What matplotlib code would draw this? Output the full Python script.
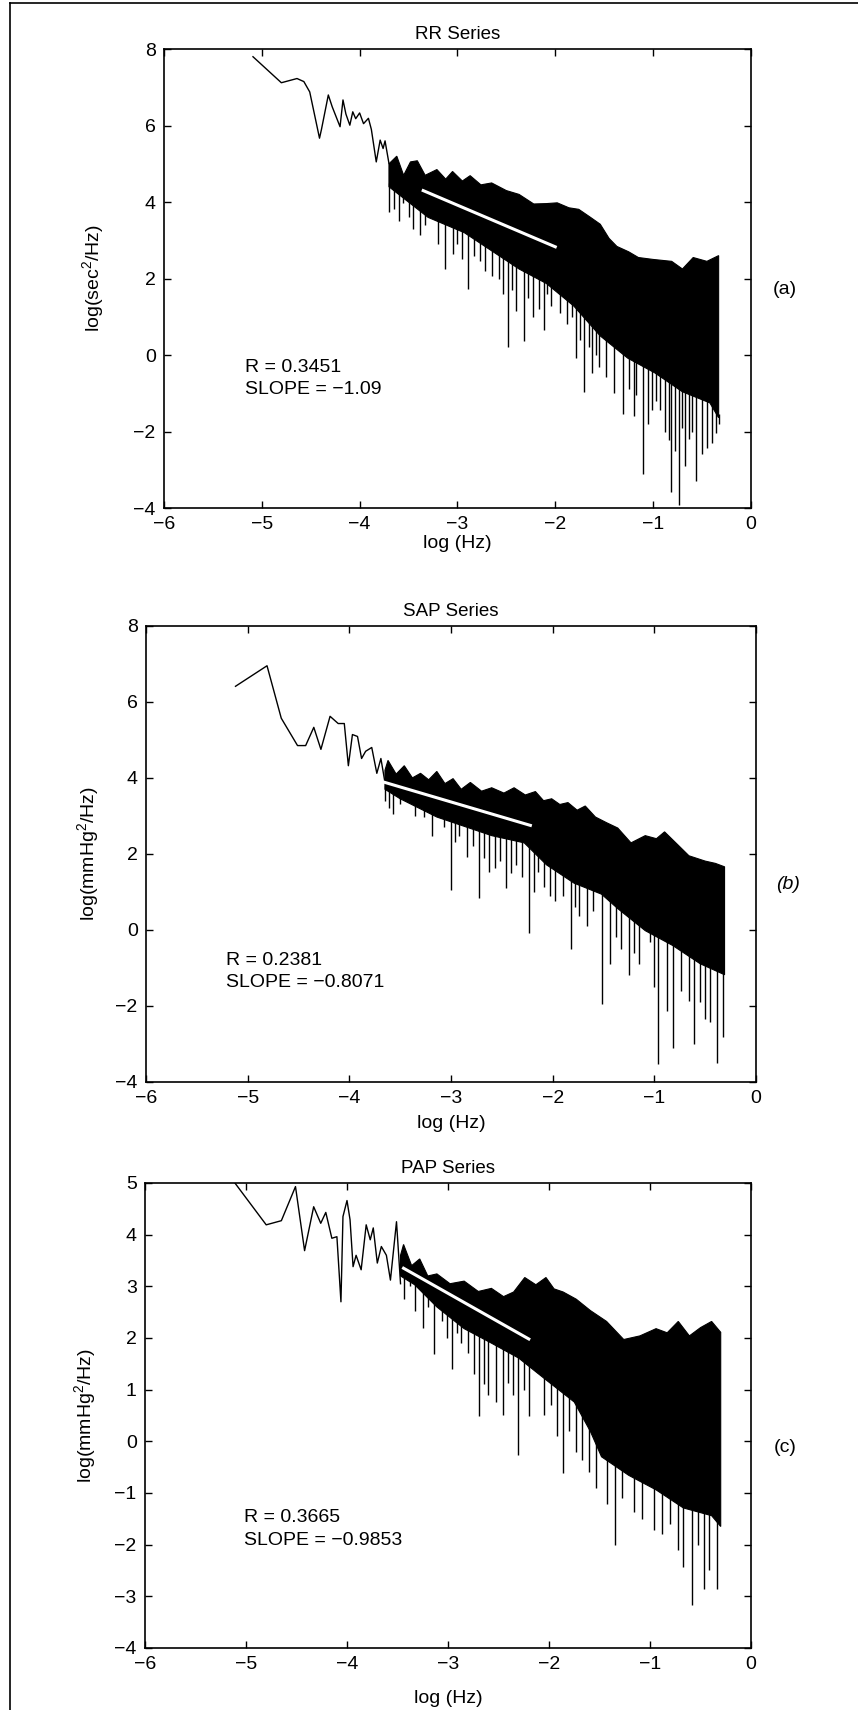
import numpy as np
import matplotlib
matplotlib.use("Agg")
import matplotlib.pyplot as plt
from matplotlib.lines import Line2D

plt.rcParams['font.family'] = ['Liberation Sans', 'DejaVu Sans']
plt.rcParams['mathtext.default'] = 'regular'

# ---- RR series (a) ----
rr_line_x = [-5.09, -4.80, -4.64, -4.57, -4.51, -4.41, -4.39, -4.32, -4.28, -4.20, -4.17, -4.14,
             -4.10, -4.07, -4.04, -4.00, -3.96, -3.91, -3.88, -3.83, -3.79, -3.76, -3.74, -3.70]
rr_line_y = [7.80, 7.12, 7.23, 7.15, 6.88, 5.67, 5.90, 6.80, 6.49, 5.97, 6.67, 6.30,
             6.01, 6.36, 6.18, 6.33, 6.05, 6.19, 5.90, 5.05, 5.62, 5.40, 5.60, 5.01]
rr_top_x = [-3.70, -3.62, -3.55, -3.48, -3.41, -3.33, -3.21, -3.12, -3.05, -2.95, -2.87, -2.76,
            -2.65, -2.50, -2.37, -2.22, -2.09, -1.98, -1.86, -1.76, -1.64, -1.54, -1.45, -1.37,
            -1.25, -1.15, -1.00, -0.81, -0.70, -0.59, -0.45, -0.33]
rr_top_y = [5.00, 5.20, 4.70, 5.05, 5.08, 4.70, 4.85, 4.60, 4.80, 4.55, 4.69, 4.45,
            4.50, 4.30, 4.20, 3.95, 3.96, 3.98, 3.85, 3.81, 3.60, 3.42, 3.05, 2.84,
            2.70, 2.55, 2.50, 2.45, 2.25, 2.55, 2.45, 2.60]
rr_bot_x = [-3.70, -3.30, -2.93, -2.37, -2.09, -1.81, -1.54, -1.26, -0.98, -0.70, -0.42, -0.33]
rr_bot_y = [4.40, 3.60, 3.20, 2.25, 1.87, 1.28, 0.50, -0.08, -0.47, -0.96, -1.25, -1.64]
rr_spike_x = [-3.70, -3.65, -3.60, -3.56, -3.50, -3.45, -3.38, -3.33, -3.27, -3.20, -3.13, -3.05,
              -3.00, -2.95, -2.89, -2.83, -2.77, -2.72, -2.65, -2.58, -2.53, -2.48, -2.44, -2.40,
              -2.32, -2.28, -2.23, -2.17, -2.12, -2.08, -2.04, -1.95, -1.88, -1.83, -1.79, -1.75,
              -1.71, -1.66, -1.62, -1.58, -1.55, -1.48, -1.40, -1.31, -1.25, -1.20, -1.17, -1.10,
              -1.05, -1.01, -0.97, -0.93, -0.88, -0.84, -0.82, -0.78, -0.74, -0.70, -0.67, -0.63,
              -0.60, -0.56, -0.50, -0.45, -0.40, -0.36, -0.33]
rr_spike_y = [3.74, 3.82, 3.50, 3.97, 3.60, 3.30, 3.13, 3.40, 3.70, 2.90, 2.26, 2.65,
              2.90, 2.50, 1.72, 2.60, 2.45, 2.20, 2.06, 2.00, 1.60, 0.21, 1.70, 1.14,
              0.36, 1.50, 1.00, 1.20, 0.65, 1.60, 1.28, 1.10, 0.80, 1.00, -0.08, 0.40,
              -0.96, 0.20, -0.47, 0.00, -0.30, -0.57, -1.00, -1.54, -0.90, -1.60, -1.05, -3.10,
              -1.80, -1.44, -1.20, -1.44, -2.00, -2.22, -3.59, -2.50, -3.93, -1.90, -2.90, -2.20,
              -2.00, -3.30, -2.60, -2.42, -2.30, -2.03, -1.80]
rr_fit_x = [-3.35, -2.00]
rr_fit_y = [4.30, 2.83]

# ---- SAP series (b) ----
sap_line_x = [-5.12, -4.81, -4.67, -4.51, -4.43, -4.35, -4.28, -4.19, -4.11, -4.05, -4.01, -3.97,
              -3.92, -3.88, -3.84, -3.78, -3.73, -3.69, -3.65]
sap_line_y = [6.41, 6.95, 5.57, 4.85, 4.85, 5.33, 4.75, 5.62, 5.43, 5.43, 4.32, 5.14,
              5.09, 4.51, 4.70, 4.80, 4.12, 4.51, 3.88]
sap_top_x = [-3.65, -3.62, -3.54, -3.46, -3.38, -3.30, -3.22, -3.14, -3.06, -2.98, -2.90, -2.81,
             -2.70, -2.60, -2.48, -2.38, -2.27, -2.17, -2.09, -2.01, -1.93, -1.85, -1.76, -1.68,
             -1.58, -1.47, -1.36, -1.23, -1.09, -0.98, -0.90, -0.77, -0.66, -0.50, -0.40, -0.31]
sap_top_y = [4.20, 4.46, 4.10, 4.32, 4.00, 4.12, 3.95, 4.17, 3.85, 3.98, 3.70, 3.88,
             3.65, 3.74, 3.60, 3.74, 3.55, 3.64, 3.40, 3.45, 3.30, 3.35, 3.15, 3.26,
             2.97, 2.82, 2.68, 2.29, 2.48, 2.40, 2.58, 2.24, 1.95, 1.81, 1.75, 1.66]
sap_bot_x = [-3.65, -3.50, -3.14, -2.60, -2.28, -2.06, -1.79, -1.52, -1.36, -1.09, -0.82, -0.55, -0.31]
sap_bot_y = [3.70, 3.45, 2.97, 2.48, 2.29, 1.71, 1.23, 0.94, 0.56, -0.02, -0.41, -0.89, -1.18]
sap_spike_x = [-3.65, -3.61, -3.57, -3.50, -3.43, -3.35, -3.27, -3.19, -3.14, -3.07, -3.00, -2.96,
               -2.92, -2.84, -2.78, -2.73, -2.68, -2.63, -2.57, -2.52, -2.46, -2.41, -2.36, -2.30,
               -2.23, -2.18, -2.14, -2.09, -2.03, -1.98, -1.90, -1.82, -1.78, -1.74, -1.66, -1.60,
               -1.52, -1.44, -1.38, -1.33, -1.25, -1.20, -1.15, -1.04, -1.00, -0.96, -0.88, -0.82,
               -0.74, -0.66, -0.61, -0.55, -0.50, -0.45, -0.38, -0.33]
sap_spike_y = [3.40, 3.20, 3.06, 3.30, 3.54, 3.00, 2.97, 2.48, 3.06, 2.70, 1.04, 2.30,
               2.48, 1.91, 2.20, 0.84, 1.90, 1.52, 1.62, 1.80, 1.09, 1.50, 1.71, 1.40,
               -0.07, 1.00, 1.52, 1.13, 0.90, 0.75, 0.90, -0.51, 0.60, 0.36, 0.10, 0.50,
               -1.95, -0.89, -0.20, -0.51, -1.18, -0.60, -0.89, -0.31, -1.50, -3.54, -2.14, -3.11,
               -1.60, -1.86, -3.01, -1.90, -2.34, -2.43, -3.49, -2.82]
sap_fit_x = [-3.65, -2.22]
sap_fit_y = [3.88, 2.75]

# ---- PAP series (c) ----
pap_line_x = [-5.11, -4.80, -4.65, -4.51, -4.42, -4.33, -4.26, -4.21, -4.15, -4.10, -4.06, -4.04,
              -4.00, -3.97, -3.94, -3.91, -3.86, -3.81, -3.77, -3.74, -3.70, -3.66, -3.61, -3.57,
              -3.51, -3.47]
pap_line_y = [5.00, 4.19, 4.27, 4.93, 3.69, 4.54, 4.22, 4.43, 3.93, 3.96, 2.70, 4.35,
              4.66, 4.29, 3.38, 3.60, 3.32, 4.19, 3.90, 4.13, 3.45, 3.77, 3.60, 3.12,
              4.25, 3.05]
pap_top_x = [-3.47, -3.44, -3.36, -3.28, -3.20, -3.11, -2.98, -2.84, -2.70, -2.57, -2.45, -2.35,
             -2.24, -2.13, -2.03, -1.95, -1.86, -1.73, -1.59, -1.43, -1.26, -1.10, -0.94, -0.83,
             -0.72, -0.61, -0.50, -0.39, -0.30]
pap_top_y = [3.60, 3.81, 3.40, 3.53, 3.20, 3.24, 3.05, 3.10, 2.90, 2.96, 2.80, 2.89,
             3.17, 3.03, 3.17, 2.95, 2.89, 2.75, 2.53, 2.32, 1.97, 2.04, 2.18, 2.10,
             2.32, 2.04, 2.20, 2.32, 2.11]
pap_bot_x = [-3.47, -3.33, -3.11, -2.84, -2.57, -2.30, -2.03, -1.75, -1.59, -1.48, -1.21, -0.94,
             -0.67, -0.39, -0.30]
pap_bot_y = [3.20, 3.03, 2.60, 2.18, 1.90, 1.61, 1.19, 0.76, 0.19, -0.30, -0.66, -0.94,
             -1.29, -1.44, -1.65]
pap_spike_x = [-3.44, -3.38, -3.33, -3.25, -3.20, -3.14, -3.06, -3.01, -2.96, -2.91, -2.87, -2.80,
               -2.74, -2.69, -2.64, -2.60, -2.52, -2.46, -2.41, -2.36, -2.31, -2.25, -2.20, -2.11,
               -2.05, -1.98, -1.92, -1.86, -1.80, -1.73, -1.67, -1.60, -1.53, -1.43, -1.35, -1.28,
               -1.16, -1.08, -0.96, -0.88, -0.80, -0.72, -0.67, -0.58, -0.52, -0.47, -0.42, -0.34]
pap_spike_y = [2.75, 3.00, 2.53, 2.20, 2.60, 1.68, 2.32, 2.00, 1.40, 2.10, 1.90, 1.70,
               1.30, 0.48, 1.10, 0.90, 0.76, 0.50, 1.12, 0.90, -0.27, 1.00, 0.48, 1.33,
               0.50, 0.70, 0.10, -0.62, 0.20, -0.20, -0.37, -0.60, -0.90, -1.22, -2.00, -1.10,
               -1.36, -1.50, -1.72, -1.80, -1.60, -2.11, -2.43, -3.17, -2.00, -2.85, -2.50,
               -2.85]
pap_fit_x = [-3.44, -2.20]
pap_fit_y = [3.35, 1.98]

fig = plt.figure(figsize=(8.58, 17.10), dpi=100)

panels = [
    dict(rect=[0.1911, 0.7029, 0.6841, 0.2684], title='RR Series', ylabel='log(sec$^2$/Hz)',
         ylim=(-4, 8), yticks=np.arange(-4, 9, 2), line=(rr_line_x, rr_line_y),
         top=(rr_top_x, rr_top_y), bot=(rr_bot_x, rr_bot_y), spikes=(rr_spike_x, rr_spike_y),
         fit=(rr_fit_x, rr_fit_y), txt=(-5.17, -0.11, 'R = 0.3451\nSLOPE = \u22121.09'),
         ylab_x=-0.099, xlab_y=-0.058, tag='(a)', tag_xy=(785, 290), tag_style='normal'),
    dict(rect=[0.1702, 0.3673, 0.7110, 0.2667], title='SAP Series', ylabel='log(mmHg$^2$/Hz)',
         ylim=(-4, 8), yticks=np.arange(-4, 9, 2), line=(sap_line_x, sap_line_y),
         top=(sap_top_x, sap_top_y), bot=(sap_bot_x, sap_bot_y), spikes=(sap_spike_x, sap_spike_y),
         fit=(sap_fit_x, sap_fit_y), txt=(-5.21, -0.58, 'R = 0.2381\nSLOPE = \u22120.8071'),
         ylab_x=-0.074, xlab_y=-0.073, tag='(b)', tag_xy=(788, 884), tag_style='italic'),
    dict(rect=[0.1690, 0.0363, 0.7063, 0.2719], title='PAP Series', ylabel='log(mmHg$^2$/Hz)',
         ylim=(-4, 5), yticks=np.arange(-4, 6, 1), line=(pap_line_x, pap_line_y),
         top=(pap_top_x, pap_top_y), bot=(pap_bot_x, pap_bot_y), spikes=(pap_spike_x, pap_spike_y),
         fit=(pap_fit_x, pap_fit_y), txt=(-5.02, -1.32, 'R = 0.3665\nSLOPE = \u22120.9853'),
         ylab_x=-0.078, xlab_y=-0.090, tag='(c)', tag_xy=(785, 1447), tag_style='normal'),
]

for p in panels:
    ax = fig.add_axes(p['rect'])
    # sparse low-frequency part
    ax.plot(p['line'][0], p['line'][1], color='black', lw=1.0, zorder=3)
    # dense high-frequency band
    tx, ty = p['top']
    bx, by = p['bot']
    ax.fill(np.r_[tx, bx[::-1]], np.r_[ty, by[::-1]], color='black', lw=0.8, zorder=2)
    sx, sy = p['spikes']
    ax.vlines(sx, sy, np.interp(sx, bx, by) + 0.1, color='black', lw=1.0, zorder=2)
    # regression line
    ax.plot(p['fit'][0], p['fit'][1], color='white', lw=2.2, zorder=4)

    ax.text(p['txt'][0], p['txt'][1], p['txt'][2], fontsize=14, va='top',
            linespacing=1.4)

    ax.set_xlim(-6, 0)
    ax.set_ylim(*p['ylim'])
    ax.set_xticks(np.arange(-6, 1, 1))
    ax.set_yticks(p['yticks'])
    ax.tick_params(direction='in', length=5, width=1, top=True, right=True,
                   labelsize=14, pad=6)
    for s in ax.spines.values():
        s.set_linewidth(1.2)
    ax.set_title(p['title'], fontsize=13.5, pad=7)
    ax.set_xlabel('log (Hz)', fontsize=14)
    ax.set_ylabel(p['ylabel'], fontsize=14)
    ax.yaxis.set_label_coords(p['ylab_x'], 0.5)
    ax.xaxis.set_label_coords(0.5, p['xlab_y'])

    fig.text(p['tag_xy'][0] / 858, 1 - p['tag_xy'][1] / 1710, p['tag'], fontsize=14,
             style=p['tag_style'], ha='center', va='center')

# page border from the scan
fig.add_artist(Line2D([10 / 858, 10 / 858], [0, 1 - 3 / 1710], color='black', lw=1.2))
fig.add_artist(Line2D([10 / 858, 1], [1 - 3 / 1710, 1 - 3 / 1710], color='black', lw=1.2))

fig.savefig('out.png', dpi=100)
